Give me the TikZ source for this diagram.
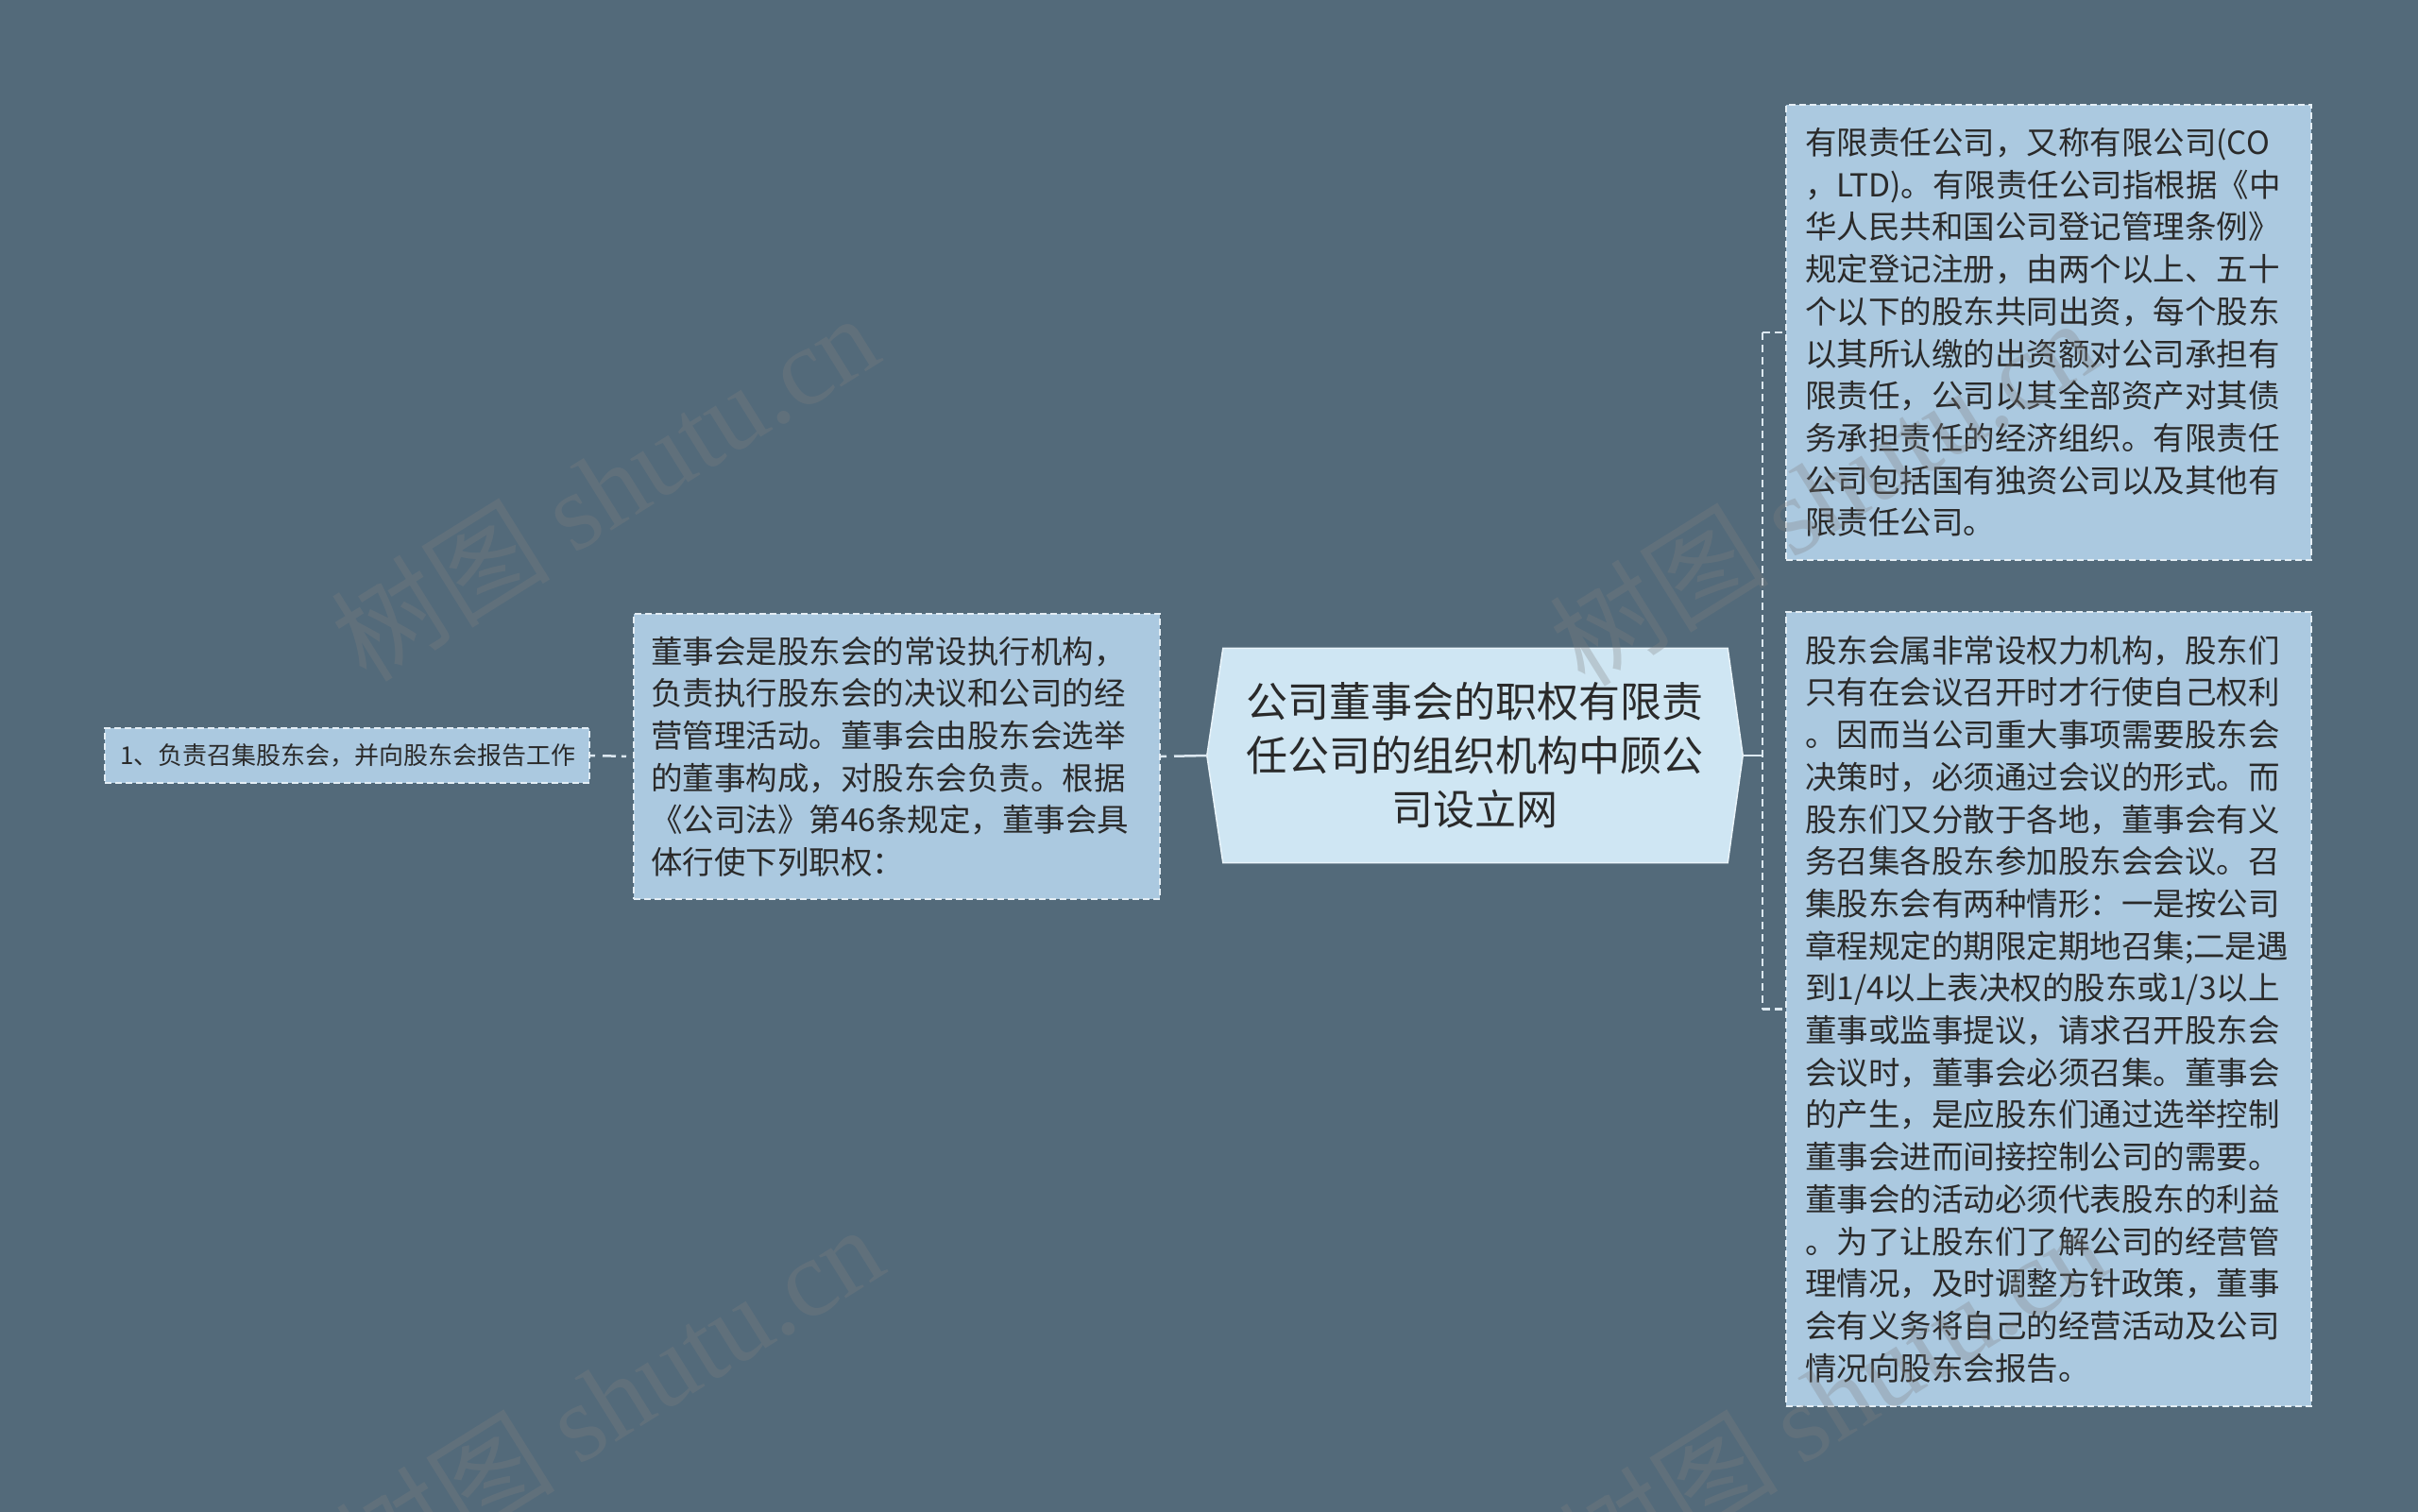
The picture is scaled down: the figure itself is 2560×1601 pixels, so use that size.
\documentclass[tikz,border=0pt]{standalone}
\usepackage{fontspec}
\setmainfont{Noto Sans CJK SC}
\newfontfamily\wmlatin{Liberation Serif}
\usetikzlibrary{backgrounds}
\definecolor{bg}{HTML}{536A7A}
\definecolor{boxfill}{HTML}{ABC9E0}
\definecolor{boxline}{HTML}{E4EEF5}
\definecolor{mainfill}{HTML}{CFE6F3}
\definecolor{mainline}{HTML}{E9F4FA}
\definecolor{txt}{HTML}{2A2A2A}
\definecolor{conncol}{HTML}{DCE8F0}
\tikzset{
  infobox/.style={draw=boxline, fill=boxfill, line width=2pt, dash pattern=on 7pt off 4pt,
    inner xsep=18pt, inner ysep=0pt, text=txt, align=left,
    font=\fontsize{33.5}{44.7}\selectfont},
  conn/.style={draw=conncol, line width=2.5pt},
  wmark/.style={text=gray, opacity=0.3, rotate=32, font=\fontsize{116}{120}\selectfont}
}
\begin{document}
\begin{tikzpicture}[x=1pt,y=-1pt]
\useasboundingbox (0,0) rectangle (2560,1601);
\begin{scope}[on background layer]
\fill[bg] (0,0) rectangle (2560,1601);
\end{scope}

% central topic
\node[minimum width=567pt, minimum height=227pt, inner sep=0pt, text=txt, align=center,
      font=\fontsize{44}{57}\selectfont] (center) at (1561.5,800)
  {公司董事会的职权有限责\\任公司的组织机构中顾公\\司设立网};
\begin{scope}[on background layer]
\draw[fill=mainfill, draw=mainline, line width=1.5pt]
  (center.west) -- ([xshift=17pt]center.north west) -- ([xshift=-16pt]center.north east)
  -- (center.east) -- ([xshift=-16pt]center.south east) -- ([xshift=17pt]center.south west) -- cycle;
\end{scope}

% left branch
\node[infobox, minimum width=557pt, minimum height=302pt, text width=521pt] (mid) at (949.5,801)
  {董事会是股东会的常设执行机构，\\负责执行股东会的决议和公司的经\\营管理活动。董事会由股东会选举\\的董事构成，对股东会负责。根据\\《公司法》第46条规定，董事会具\\体行使下列职权：};
\node[infobox, minimum width=513pt, minimum height=58pt, text width=481pt, inner xsep=16pt,
      font=\fontsize{26}{30}\selectfont] (leaf) at (367.5,800)
  {1、负责召集股东会，并向股东会报告工作};

% right branch
\node[infobox, minimum width=556pt, minimum height=482pt, text width=516pt, inner xsep=20pt] (rt) at (2169,352)
  {有限责任公司，又称有限公司(CO\\，LTD)。有限责任公司指根据《中\\华人民共和国公司登记管理条例》\\规定登记注册，由两个以上、五十\\个以下的股东共同出资，每个股东\\以其所认缴的出资额对公司承担有\\限责任，公司以其全部资产对其债\\务承担责任的经济组织。有限责任\\公司包括国有独资公司以及其他有\\限责任公司。};
\node[infobox, minimum width=556pt, minimum height=841pt, text width=516pt, inner xsep=20pt] (rb) at (2169,1068.5)
  {股东会属非常设权力机构，股东们\\只有在会议召开时才行使自己权利\\。因而当公司重大事项需要股东会\\决策时，必须通过会议的形式。而\\股东们又分散于各地，董事会有义\\务召集各股东参加股东会会议。召\\集股东会有两种情形：一是按公司\\章程规定的期限定期地召集;二是遇\\到1/4以上表决权的股东或1/3以上\\董事或监事提议，请求召开股东会\\会议时，董事会必须召集。董事会\\的产生，是应股东们通过选举控制\\董事会进而间接控制公司的需要。\\董事会的活动必须代表股东的利益\\。为了让股东们了解公司的经营管\\理情况，及时调整方针政策，董事\\会有义务将自己的经营活动及公司\\情况向股东会报告。};

% connectors
\coordinate (jr) at (1866,800);
\draw[conn] (center.east) -- (jr);
\draw[conn, dash pattern=on 8pt off 5pt] (jr |- rt.west) -- (jr |- rb.west);
\draw[conn, dash pattern=on 8pt off 5pt] (jr |- rt.west) -- (rt.west);
\draw[conn, dash pattern=on 8pt off 5pt] (jr |- rb.west) -- (rb.west);
\draw[conn, dash pattern=on 6pt off 8pt on 100pt off 0pt] (mid.east) -- (center.west);
\draw[conn, dash pattern=on 5pt off 8pt on 14pt off 6pt] (leaf.east) -- (mid.west);

% watermarks
\node[wmark] (wm1) at (640,515) {树图 {\wmlatin shutu.cn}};
\node[wmark] (wm2) at (1930,520) {树图 {\wmlatin shutu.cn}};
\node[wmark] (wm3) at (645,1480) {树图 {\wmlatin shutu.cn}};
\node[wmark] (wm4) at (1940,1480) {树图 {\wmlatin shutu.cn}};
\end{tikzpicture}
\end{document}
